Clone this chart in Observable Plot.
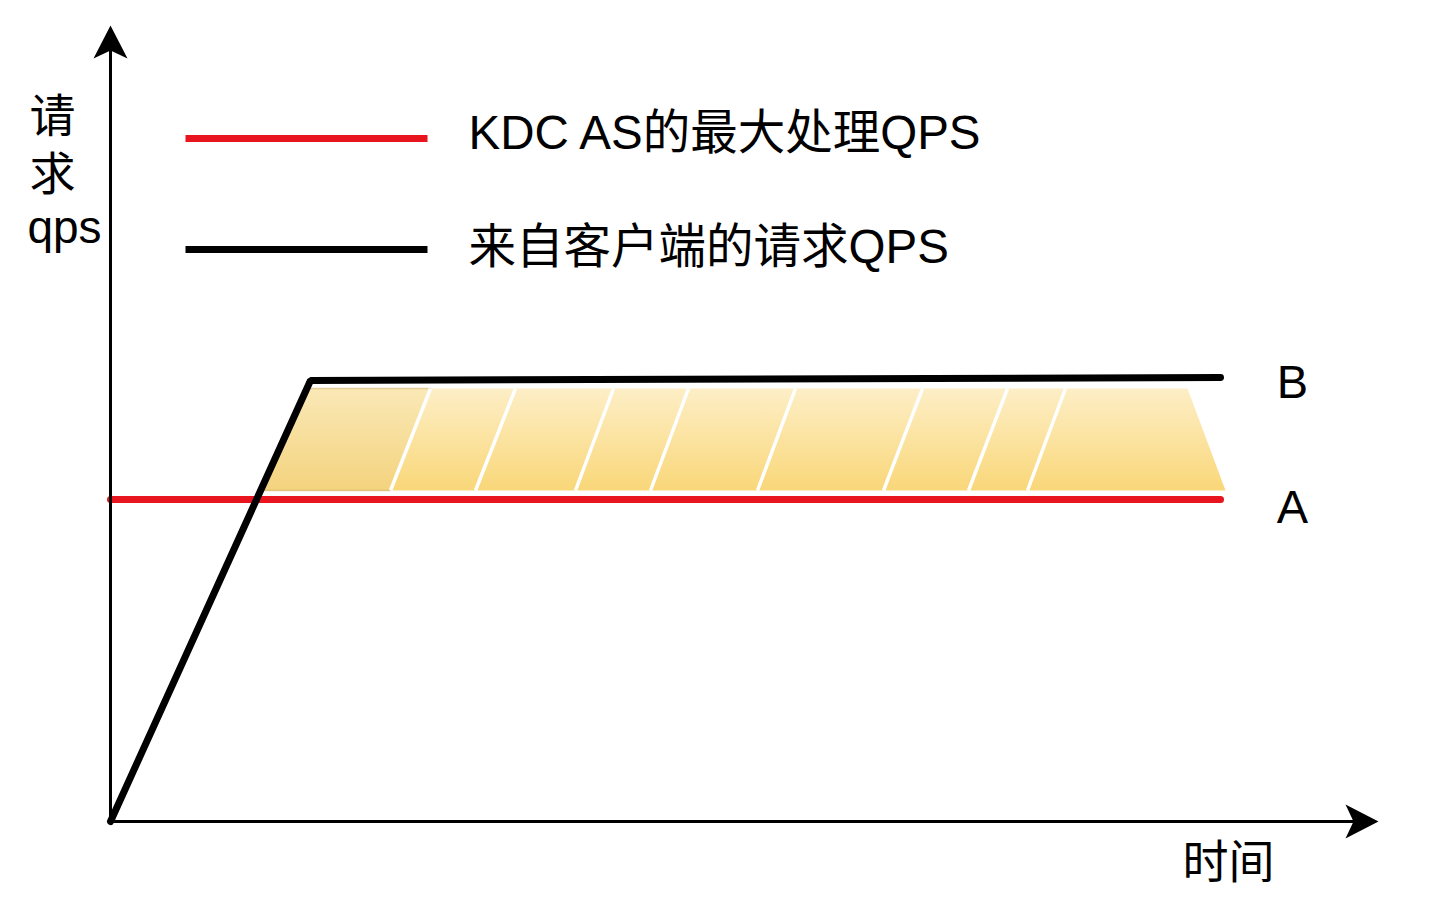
<!DOCTYPE html>
<html>
<head>
<meta charset="utf-8">
<script src="https://cdn.jsdelivr.net/npm/d3@7"></script>
<script src="https://cdn.jsdelivr.net/npm/@observablehq/plot@0.6"></script>
<style>
  html, body { margin: 0; padding: 0; background: #fff; }
  #chart svg { display: block; }
</style>
</head>
<body>
<div id="chart"></div>
<script>
// ---- data (time units on x, qps units on y) ----
const requestT = [0, 20, 111];
const requestQ = [0, 44.1, 44.4];
const capacityT = [0, 111];
const capacityQ = [32.2, 32.2];

// overload band (between capacity and request)
const bandBottomQ = 33.1;
const bandTopQ = 43.3;
const bandBottomT = [15.0, 111.5];   // left & right ends at bottom
const bandTopT = [19.64, 107.7];     // left & right ends at top
// white separator stripes (bottom t, top t)
const stripeBottomT = [28.0, 36.5, 46.5, 54.0, 64.7, 77.3, 85.8, 91.7];
const stripeTopT    = [32.0, 40.5, 50.3, 57.8, 68.5, 81.2, 89.7, 95.5];

const legendLabels = ["KDC AS的最大处理QPS", "来自客户端的请求QPS"];
const legendColors = ["#e8141e", "#000000"];
const legendQ = [68.3, 57.2];
const legendTextQ = [68.8, 57.4];

const yLabelLines = ["请", "求", "qps"];
const yLabelT = [-5.8, -5.8, -4.6];
const yLabelQ = [70.4, 64.6, 59.3];
const xLabel = "时间";
const endLabels = ["B", "A"];
const endLabelQ = [43.9, 31.4];

// ---- derived tables ----
const requestData = requestT.map((t, i) => ({t, q: requestQ[i]}));
const capacityData = capacityT.map((t, i) => ({t, q: capacityQ[i]}));
const bandPoly = [
  {t: bandBottomT[0], q: bandBottomQ},
  {t: bandTopT[0], q: bandTopQ},
  {t: bandTopT[1], q: bandTopQ},
  {t: bandBottomT[1], q: bandBottomQ}
];
const firstSeg = [
  {t: bandBottomT[0], q: bandBottomQ},
  {t: bandTopT[0], q: bandTopQ},
  {t: stripeTopT[0], q: bandTopQ},
  {t: stripeBottomT[0], q: bandBottomQ}
];
const stripes = stripeBottomT.map((b, i) => ({b, tp: stripeTopT[i]}));
const legend = legendLabels.map((label, i) => ({label, color: legendColors[i], q: legendQ[i], tq: legendTextQ[i]}));
const yLabels = yLabelLines.map((s, i) => ({s, t: yLabelT[i], q: yLabelQ[i]}));
const ends = endLabels.map((s, i) => ({s, q: endLabelQ[i]}));

const axisEnd = {t: 124.8, q: 77.6};
const arrows = [
  {t: 0, q: axisEnd.q, rot: 0},
  {t: axisEnd.t, q: 0, rot: 90}
];

const arrowHead = {
  draw(ctx) {
    ctx.moveTo(0, -20);
    ctx.lineTo(17, 13);
    ctx.lineTo(0, 5);
    ctx.lineTo(-17, 13);
    ctx.closePath();
  }
};

const FONT = "'Liberation Sans', 'Noto Sans CJK SC', sans-serif";

const defs = () => {
  const d = d3.create("svg:defs");
  const g1 = d.append("linearGradient").attr("id", "bandGrad").attr("x1", 0).attr("y1", 0).attr("x2", 0).attr("y2", 1);
  g1.append("stop").attr("offset", "0%").attr("stop-color", "#fdeec6");
  g1.append("stop").attr("offset", "100%").attr("stop-color", "#f9d779");
  const g2 = d.append("linearGradient").attr("id", "segGrad").attr("x1", 0).attr("y1", 0).attr("x2", 0).attr("y2", 1);
  g2.append("stop").attr("offset", "0%").attr("stop-color", "#fae8b6");
  g2.append("stop").attr("offset", "100%").attr("stop-color", "#f3d37e");
  return d.node();
};

const chart = Plot.plot({
  width: 1436,
  height: 922,
  margin: 0,
  x: {domain: [-11, 132.6], axis: null},
  y: {domain: [-10.1, 82.1], axis: null},
  style: {background: "#fff", fontFamily: FONT},
  marks: [
    defs,
    // band
    Plot.line(bandPoly, {x: "t", y: "q", fill: "url(#bandGrad)", stroke: "none", curve: "linear-closed"}),
    Plot.line(firstSeg, {x: "t", y: "q", fill: "url(#segGrad)", stroke: "#c9a055", strokeOpacity: 0.45, strokeWidth: 1.5, curve: "linear-closed"}),
    Plot.link(stripes, {x1: "b", y1: () => bandBottomQ, x2: "tp", y2: () => bandTopQ, stroke: "#fff", strokeWidth: 3.5}),
    // capacity (red) and request (black)
    Plot.line(capacityData, {x: "t", y: "q", stroke: legendColors[0], strokeWidth: 7}),
    Plot.line(requestData, {x: "t", y: "q", stroke: legendColors[1], strokeWidth: 7, strokeLinejoin: "miter"}),
    // axes
    Plot.link([{}], {x1: -0.2, y1: 0, x2: axisEnd.t, y2: 0, stroke: "#000", strokeWidth: 3}),
    Plot.link([{}], {x1: 0, y1: -0.2, x2: 0, y2: axisEnd.q, stroke: "#000", strokeWidth: 3}),
    Plot.dot(arrows, {x: "t", y: "q", symbol: arrowHead, rotate: "rot", fill: "#000", stroke: "none", r: 1}),
    // legend
    Plot.link(legend, {x1: () => 7.5, x2: () => 31.7, y1: "q", y2: "q", stroke: "color", strokeWidth: 7}),
    Plot.text(legend, {x: () => 35.8, y: "tq", text: "label", textAnchor: "start", fontSize: 47.5, fill: "#000", fontFamily: FONT}),
    // axis labels
    Plot.text(yLabels, {x: "t", y: "q", text: "s", fontSize: 46, fill: "#000", fontFamily: FONT}),
    Plot.text([xLabel], {x: () => 111.8, y: () => -4.2, text: d => d, fontSize: 46, fill: "#000", fontFamily: FONT}),
    // end labels
    Plot.text(ends, {x: () => 118.2, y: "q", text: "s", fontSize: 47, fill: "#000", fontFamily: FONT})
  ]
});
document.getElementById("chart").append(chart);
</script>
</body>
</html>
